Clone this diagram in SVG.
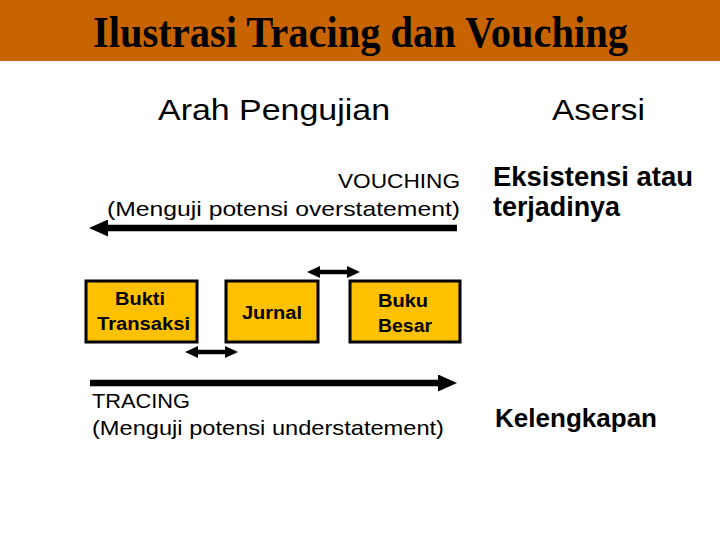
<svg xmlns="http://www.w3.org/2000/svg" width="720" height="540" viewBox="0 0 720 540">
<style>
.t{font-family:"Liberation Sans",Arial,sans-serif;fill:#000}
.box{fill:#FFC000;stroke:#000;stroke-width:3}
.bl{font-size:18px;font-weight:bold}
.ln{stroke:#000;stroke-width:6.5;fill:none}
.dl{stroke:#000;stroke-width:4.5;fill:none}
</style>
<defs>
<marker id="big" viewBox="0 0 19 17" refX="0" refY="8.5" markerWidth="19" markerHeight="17" orient="auto-start-reverse" markerUnits="userSpaceOnUse">
<path d="M0,0 L19,8.5 L0,17 Z" fill="#000"/>
</marker>
<marker id="sm" viewBox="0 0 13 12" refX="0" refY="6" markerWidth="13" markerHeight="12" orient="auto-start-reverse" markerUnits="userSpaceOnUse">
<path d="M0,0 L13,6 L0,12 Z" fill="#000"/>
</marker>
</defs>
<rect x="0" y="0" width="720" height="61" fill="#C86400"/>
<text x="93" y="47" textLength="535" lengthAdjust="spacingAndGlyphs" font-family="'Liberation Serif','Times New Roman',serif" font-weight="bold" font-size="44">Ilustrasi Tracing dan Vouching</text>
<text class="t" x="158" y="120" textLength="232" lengthAdjust="spacingAndGlyphs" font-size="30">Arah Pengujian</text>
<text class="t" x="552" y="120" textLength="93" lengthAdjust="spacingAndGlyphs" font-size="30">Asersi</text>
<text class="t" x="338" y="188" textLength="122" lengthAdjust="spacingAndGlyphs" font-size="21">VOUCHING</text>
<text class="t" x="107" y="216" textLength="353" lengthAdjust="spacingAndGlyphs" font-size="21">(Menguji potensi overstatement)</text>
<text class="t" x="493" y="186" textLength="200" lengthAdjust="spacingAndGlyphs" font-size="27" font-weight="bold">Eksistensi atau</text>
<text class="t" x="493" y="216" textLength="127" lengthAdjust="spacingAndGlyphs" font-size="27" font-weight="bold">terjadinya</text>
<text class="t" x="92" y="408" textLength="98" lengthAdjust="spacingAndGlyphs" font-size="21">TRACING</text>
<text class="t" x="92" y="435" textLength="352" lengthAdjust="spacingAndGlyphs" font-size="21">(Menguji potensi understatement)</text>
<text class="t" x="495" y="427" textLength="162" lengthAdjust="spacingAndGlyphs" font-size="26" font-weight="bold">Kelengkapan</text>
<g id="bukti">
<rect class="box" x="86" y="281" width="111" height="61"/>
<text class="t bl" x="115" y="305" textLength="50" lengthAdjust="spacingAndGlyphs">Bukti</text>
<text class="t bl" x="97" y="330" textLength="93" lengthAdjust="spacingAndGlyphs">Transaksi</text>
</g>
<g id="jurnal">
<rect class="box" x="226" y="281" width="92" height="61"/>
<text class="t bl" x="242" y="319" textLength="60" lengthAdjust="spacingAndGlyphs">Jurnal</text>
</g>
<g id="buku">
<rect class="box" x="350" y="281" width="110" height="61"/>
<text class="t bl" x="378" y="307" textLength="50" lengthAdjust="spacingAndGlyphs">Buku</text>
<text class="t bl" x="378" y="332" textLength="54" lengthAdjust="spacingAndGlyphs">Besar</text>
</g>
<g id="connectors">
<line class="ln" x1="457" y1="228" x2="108" y2="228" marker-end="url(#big)"/>
<line class="ln" x1="90" y1="383" x2="438" y2="383" marker-end="url(#big)"/>
<line class="dl" x1="198" y1="352" x2="225" y2="352" marker-start="url(#sm)" marker-end="url(#sm)"/>
<line class="dl" x1="320" y1="272" x2="347" y2="272" marker-start="url(#sm)" marker-end="url(#sm)"/>
</g>
</svg>
